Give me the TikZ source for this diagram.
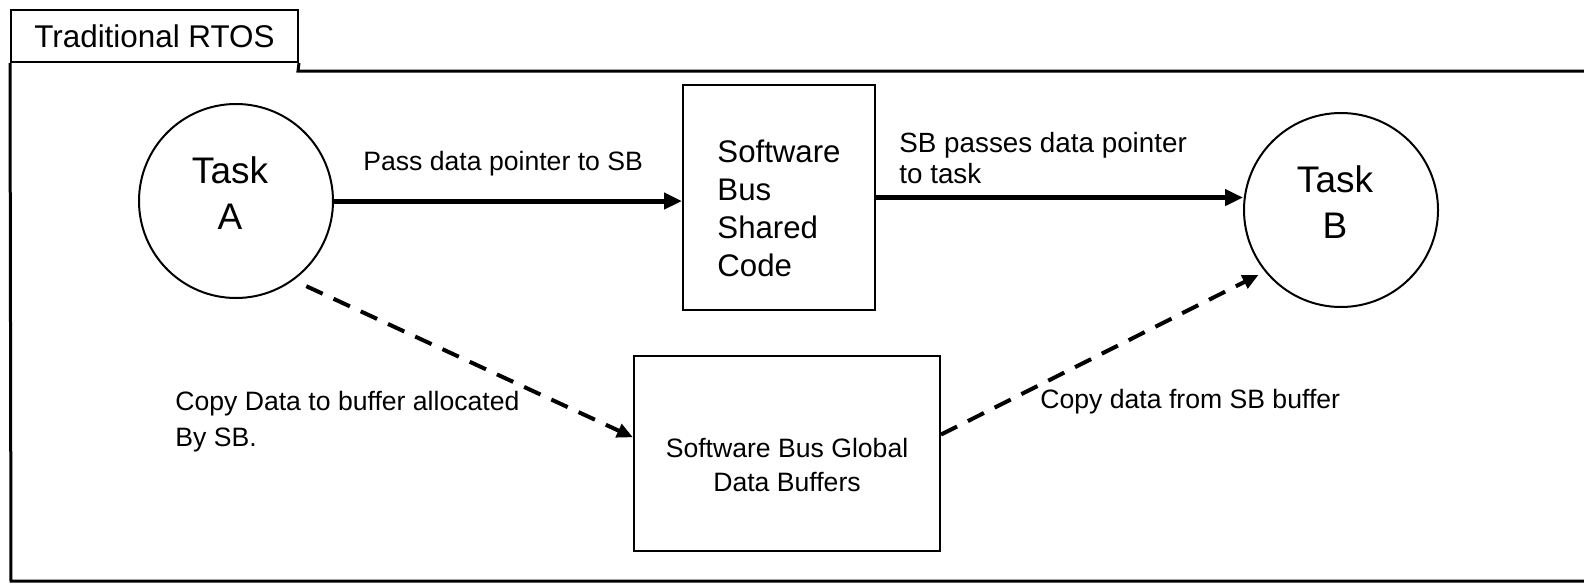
\documentclass[tikz,border=0pt]{standalone}
\usepackage{fontspec}
\setmainfont{Liberation Sans}
\usetikzlibrary{arrows.meta}

\begin{document}
\begin{tikzpicture}[x=0.5pt, y=-0.5pt,
    task/.style={circle, draw, line width=1pt, minimum size=97pt, inner sep=0pt},
    tasktext/.style={inner sep=0pt, align=center, xshift=-3pt, yshift=4pt, font=\fontsize{18.5}{23}\selectfont},
    block/.style={draw, line width=1pt, inner sep=0pt},
    blocktext/.style={inner sep=0pt, yshift=-5.5pt},
    note/.style={inner sep=0pt, align=left, font=\fontsize{13.3}{15.5}\selectfont},
    pass/.style={-{Triangle[length=9pt, width=8pt]}, line width=2.5pt},
    copy/.style={-{Triangle[length=8pt, width=7pt]}, line width=2pt, dash pattern=on 9pt off 6pt}]
    \useasboundingbox (0,0) rectangle (1584,584);
    % Frame with title tab
    \node[draw, line width=1pt, minimum width=143.5pt, minimum height=26pt, inner sep=0pt, font=\fontsize{15.7}{18}\selectfont] (tab) at (154.5,36) {Traditional RTOS};
    \draw[line width=1.5pt] (tab.south east) -- (298,71) -- (1584,71);
    \draw[line width=1.5pt] (tab.south west) -- (11,581) -- (1584,581);
    % Tasks and Software Bus
    \node[task, label={[tasktext]center:{Task\\A}}] (taskA) at (236,201) {};
    \node[task, label={[tasktext]center:{Task\\B}}] (taskB) at (1341,210) {};
    \node[block, minimum width=96pt, minimum height=112.5pt,
        label={[blocktext, align=left, font=\fontsize{15.6}{19}\selectfont]center:{Software\\Bus\\Shared\\Code}}] (sbcode) at (779,197.5) {};
    \node[block, minimum width=153pt, minimum height=97.5pt,
        label={[blocktext, align=center, font=\fontsize{13.3}{17}\selectfont]center:{Software Bus Global\\Data Buffers}}] (sbbuf) at (787,453.5) {};
    % Pointer passing
    \draw[pass] (taskA.east) -- (taskA.east -| sbcode.west);
    \draw[pass] (sbcode.east) -- (sbcode.east -| taskB.west);
    % Data copies
    \draw[copy, shorten <=7pt] (taskA.-54) -- (sbbuf.174);
    \draw[copy, shorten >=3.5pt] (sbbuf.7) -- (taskB.-141);
    % Labels
    \node[note, anchor=base west] (passlbl) at (363,170) {Pass data pointer to SB};
    \node[note, anchor=west, font=\fontsize{13.9}{15.5}\selectfont] (sblbl) at (899,158.5) {SB passes data pointer\\to task};
    \node[note, anchor=west, font=\fontsize{13.3}{18}\selectfont] (copyAlbl) at (175,422) {Copy Data to buffer allocated\\By SB.};
    \node[note, anchor=base west] (copyBlbl) at (1040,408.5) {Copy data from SB buffer};
\end{tikzpicture}
\end{document}
